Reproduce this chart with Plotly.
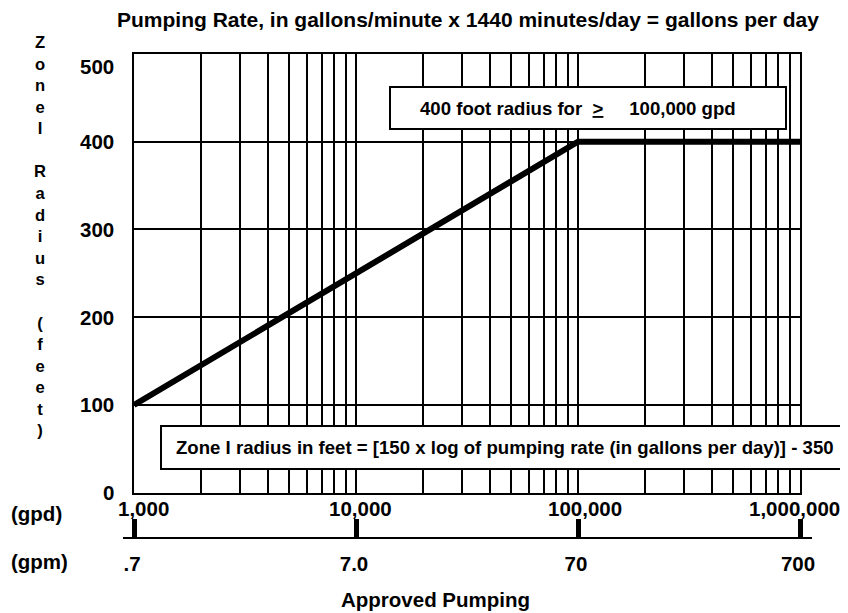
import plotly.graph_objects as go
import math

# ---------------- data ----------------
gpd_points = [1000, 100000, 1000000]          # approved pumping (gallons per day)
radius_ft = [100, 400, 400]                   # zone I radius (feet)

gpd_decades = [1000, 10000, 100000, 1000000]
gpd_tick_text = ["1,000", "10,000", "100,000", "1,000,000"]
gpm_tick_text = [".7", "7.0", "70", "700"]
radius_ticks = [0, 100, 200, 300, 400, 500]
radius_tick_text = ["0", "100", "200", "300", "400", "500"]
log_multipliers = [1, 2, 3, 4, 5, 6, 7, 8, 9]

title_text = "Pumping Rate, in gallons/minute x 1440 minutes/day = gallons per day"
ylabel_letters = "ZoneI Radius (feet)"
xlabel_text = "Approved Pumping"
box1_text = "400 foot radius for\u00a0\u00a0<u>&gt;</u>\u00a0\u00a0\u00a0\u00a0\u00a0100,000 gpd"
box2_text = "Zone I radius in feet = [150 x log of pumping rate (in gallons per day)] - 350"

# ---------------- layout / style (screen pixels) ----------------
OFF = 8                      # page body margin
WF, HF = 848 - OFF, 613 - OFF
PL, PR, PT, PB = 134, 800, 54, 492.7
AX2_Y = 537
AX2_L, AX2_R = 123, 812
FONT = "Liberation Sans, Arial, Helvetica, sans-serif"
FS_LABEL = 20.5
FS_TITLE = 21
FS_BOX = 18.6
FS_YLET = 16.6
GPD_LABEL_NUDGE = [9, 4, 7, -6]      # horizontal label nudges as in the original artwork

def px(x):
    return (x - OFF) / WF

def py(y):
    return (HF - (y - OFF)) / HF

# grid tick positions for a log axis
grid_vals = []
for d in gpd_decades[:-1]:
    for m in log_multipliers:
        grid_vals.append(d * m)
grid_vals.append(gpd_decades[-1])

lo, hi = math.log10(gpd_decades[0]), math.log10(gpd_decades[-1])
dec_per_px = (hi - lo) / (PR - PL)
x2_range = [lo - (PL - AX2_L) * dec_per_px, hi + (AX2_R - PR) * dec_per_px]

fig = go.Figure()
fig.add_trace(go.Scatter(
    x=gpd_points, y=radius_ft, mode="lines",
    line=dict(color="black", width=6),
    showlegend=False, hoverinfo="skip",
))
# invisible trace to host the gpm axis
fig.add_trace(go.Scatter(
    x=gpd_decades, y=[None] * len(gpd_decades), xaxis="x2", yaxis="y2",
    mode="lines", showlegend=False, hoverinfo="skip",
))

def bold(size):
    return dict(family=FONT, size=size, color="black", weight="bold")

fig.update_layout(
    template="none",
    width=WF, height=HF,
    margin=dict(l=0, r=0, t=0, b=0, autoexpand=False),
    paper_bgcolor="white", plot_bgcolor="white",
    font=bold(FS_LABEL),
    xaxis=dict(
        domain=[px(PL), px(PR)], type="log", range=[lo, hi],
        tickmode="array", tickvals=grid_vals, showticklabels=False,
        showgrid=True, gridcolor="black", gridwidth=2,
        showline=True, mirror=True, linecolor="black", linewidth=2,
        ticks="", zeroline=False, automargin=False,
        anchor="y",
    ),
    yaxis=dict(
        domain=[py(PB), py(PT)], range=[0, 500],
        tickmode="array", tickvals=radius_ticks,
        showticklabels=False,
        showgrid=True, gridcolor="black", gridwidth=2,
        showline=True, mirror=True, linecolor="black", linewidth=2,
        ticks="", zeroline=False, automargin=False,
        anchor="x",
    ),
    xaxis2=dict(
        domain=[px(AX2_L), px(AX2_R)], type="log", range=x2_range,
        tickmode="array", tickvals=gpd_decades, ticktext=gpm_tick_text,
        showgrid=False, zeroline=False,
        showline=True, linecolor="black", linewidth=2,
        ticks="inside", ticklen=18, tickwidth=5, tickcolor="black",
        tickfont=bold(FS_LABEL), ticklabelstandoff=7, ticklabelshift=-2,
        automargin=False, anchor="y2", side="bottom",
    ),
    yaxis2=dict(
        domain=[py(AX2_Y), py(AX2_Y - 18)], range=[0, 1],
        visible=False, showgrid=False, zeroline=False, anchor="x2",
        automargin=False,
    ),
    showlegend=False,
)

# callout boxes
fig.add_shape(type="rect", xref="paper", yref="paper",
              x0=px(390), x1=px(786), y0=py(129), y1=py(87),
              line=dict(color="black", width=2), fillcolor="white", layer="above")
fig.add_shape(type="rect", xref="paper", yref="paper",
              x0=px(161), x1=px(870), y0=py(469), y1=py(426),
              line=dict(color="black", width=2), fillcolor="white", layer="above")

ann = []
ann.append(dict(text=title_text, x=px(468), y=py(19), xref="paper", yref="paper",
                xanchor="center", yanchor="middle", showarrow=False, font=bold(FS_TITLE)))
ann.append(dict(text="<br>".join(ch if ch != " " else "" for ch in ylabel_letters),
                x=px(40), y=py(236.5), xref="paper", yref="paper",
                xanchor="center", yanchor="middle", showarrow=False, align="center",
                font=bold(FS_YLET)))
ann.append(dict(text=box1_text, x=px(418), y=py(108), xref="paper", yref="paper",
                xanchor="left", yanchor="middle", showarrow=False, font=bold(FS_BOX)))
ann.append(dict(text=box2_text, x=px(174), y=py(447.5), xref="paper", yref="paper",
                xanchor="left", yanchor="middle", showarrow=False, font=bold(FS_BOX)))
ann.append(dict(text="(gpd)", x=px(9), y=py(513), xref="paper", yref="paper",
                xanchor="left", yanchor="middle", showarrow=False))
ann.append(dict(text="(gpm)", x=px(9), y=py(561), xref="paper", yref="paper",
                xanchor="left", yanchor="middle", showarrow=False))
ann.append(dict(text=xlabel_text, x=px(435), y=py(599), xref="paper", yref="paper",
                xanchor="center", yanchor="middle", showarrow=False))
# radius tick labels (left of the plot)
for v, t in zip(radius_ticks, radius_tick_text):
    ann.append(dict(text=t, x=px(116), y=v, xref="paper", yref="y",
                    xanchor="right", yanchor="middle", showarrow=False,
                    yshift=-12 if v == radius_ticks[-1] else 0))
# gpd tick labels under the plot (log axis -> annotation x in log10 units)
for v, t, n in zip(gpd_decades, gpd_tick_text, GPD_LABEL_NUDGE):
    ann.append(dict(text=t, x=math.log10(v), y=py(508), xref="x", yref="paper",
                    xanchor="center", yanchor="middle", showarrow=False, xshift=n))
fig.update_layout(annotations=ann)

fig.write_html("out.html")
